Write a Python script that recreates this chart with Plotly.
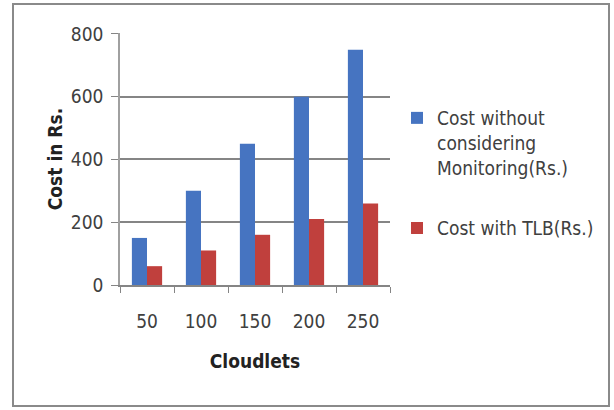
import plotly.graph_objects as go

categories = ["50", "100", "150", "200", "250"]
cost_without = [150, 300, 450, 600, 750]
cost_tlb = [60, 110, 160, 210, 260]
series_names = ["Cost without<br>considering<br>Monitoring(Rs.)", "Cost with TLB(Rs.)"]
y_ticks = [0, 200, 400, 600, 800]

FONT = "Liberation Sans Narrow, DejaVu Sans Condensed, sans-serif"

fig = go.Figure()
fig.add_trace(go.Bar(x=categories, y=cost_without, name=series_names[0], legendgroup="a",
                     marker=dict(color="#4674C1", line=dict(width=0))))
fig.add_trace(go.Bar(x=categories, y=cost_tlb, name=series_names[1], legendgroup="b",
                     marker=dict(color="#C0403D", line=dict(width=0))))

fig.update_layout(
    width=614, height=410,
    margin=dict(l=120, r=224, t=33, b=125),
    paper_bgcolor="white", plot_bgcolor="white",
    barmode="group", bargap=0.44, bargroupgap=0,
    font=dict(family=FONT, size=19, color="#404040"),
    showlegend=True,
    legend=dict(x=1.026, y=0.738, xanchor="left", yanchor="top",
                font=dict(family=FONT, size=19, color="#404040"),
                traceorder="grouped", tracegroupgap=33, valign="top",
                itemwidth=30, bgcolor="rgba(0,0,0,0)"),
    shapes=[dict(type="rect", xref="paper", yref="paper",
                 x0=-107/270, x1=489/270, y0=-121/252, y1=1 + 29/252,
                 line=dict(color="#8A8A8A", width=2), fillcolor="rgba(0,0,0,0)", layer="below")],
)

fig.update_yaxes(range=[0, 803], tickvals=y_ticks, showgrid=True,
                 gridcolor="#858585", gridwidth=1.5,
                 showline=True, linecolor="#A0A0A0", linewidth=1.5,
                 ticks="outside", ticklen=7, tickcolor="#858585",
                 tickfont=dict(size=19, color="#404040"), ticklabelstandoff=4,
                 title=dict(text="<b>Cost in Rs.</b>", font=dict(size=19, color="#222222"), standoff=3),
                 zeroline=False)
fig.update_xaxes(showline=True, linecolor="#858585", linewidth=1.5,
                 ticks="outside", tickson="boundaries", ticklen=6, tickcolor="#858585",
                 tickfont=dict(size=19, color="#404040"), ticklabelstandoff=18,
                 title=dict(text="<b>Cloudlets</b>", font=dict(size=19, color="#222222"), standoff=24))

fig.write_html("out.html", config={"displayModeBar": False},
               post_script="document.body.style.margin='0';document.body.style.padding='0';")
